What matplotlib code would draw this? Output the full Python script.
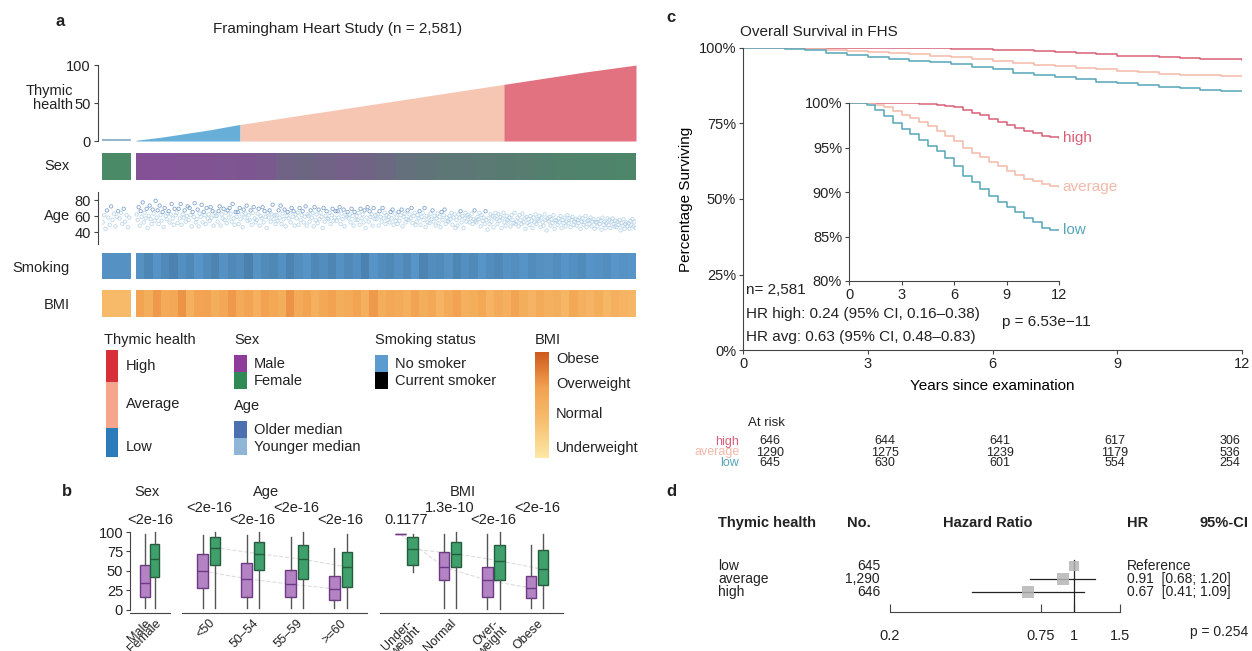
import numpy as np
import matplotlib.pyplot as plt
from matplotlib.colors import to_rgb, LinearSegmentedColormap
from matplotlib.patches import Rectangle

plt.rcParams['font.family'] = ['Liberation Sans', 'DejaVu Sans']
plt.rcParams['font.size'] = 10.5
plt.rcParams['axes.linewidth'] = 0.8
plt.rcParams['xtick.major.width'] = 0.8
plt.rcParams['ytick.major.width'] = 0.8
plt.rcParams['xtick.major.size'] = 3
plt.rcParams['ytick.major.size'] = 3
plt.rcParams['xtick.major.pad'] = 2
plt.rcParams['ytick.major.pad'] = 2
plt.rcParams['text.color'] = '#222222'
plt.rcParams['axes.edgecolor'] = '#444444'
plt.rcParams['xtick.color'] = '#444444'
plt.rcParams['ytick.color'] = '#444444'
plt.rcParams['xtick.labelcolor'] = '#222222'
plt.rcParams['ytick.labelcolor'] = '#222222'

# ---------------- data ----------------
n_total = 2581
group_names = ['low', 'average', 'high']
group_n = [645, 1290, 646]
n_zero = 137          # individuals in the small left block
zero_thymic = 1.0

# thymic health of the sorted main block, at every 5th percentile
thymic_pct = [0, 5, 10, 15, 20, 25, 30, 35, 40, 45, 50, 55, 60, 65, 70, 75, 80, 85, 90, 95, 100]
thymic_vals = [1, 5, 10, 15, 21, 26, 31, 36, 41, 46, 51, 56, 61, 66, 71, 76, 81, 86, 91, 95.5, 100]

# share of males along the main block (25 bins), left block all female
male_frac_zero = 0.0
male_frac = [0.9, 0.88, 0.85, 0.85, 0.82, 0.8, 0.75, 0.6, 0.55, 0.6, 0.65, 0.6, 0.5,
             0.4, 0.35, 0.3, 0.3, 0.25, 0.22, 0.2, 0.15, 0.12, 0.1, 0.08, 0.05]

# ages, first list = left block, then 25 bins of the main block
age_bins = [
    [52, 61, 44, 67, 58, 49, 72, 55, 63, 47, 59, 66, 57, 64, 50, 69, 53, 61, 46, 58],
    [62, 55, 71, 48, 66, 59, 77, 52, 64, 57, 69, 45, 60, 73, 56, 50, 68, 63, 54, 79],
    [58, 67, 50, 73, 61, 54, 65, 46, 70, 60, 56, 63, 66, 52, 62, 75, 57, 49, 69, 61],
    [64, 51, 69, 57, 75, 49, 62, 58, 67, 53, 60, 72, 55, 70, 61, 47, 65, 59, 76, 52],
    [56, 68, 47, 63, 59, 74, 52, 65, 61, 50, 70, 57, 62, 54, 71, 58, 66, 48, 64, 60],
    [60, 53, 66, 72, 48, 62, 57, 69, 55, 64, 51, 67, 58, 70, 63, 53, 75, 57, 49, 65],
    [59, 65, 50, 70, 56, 62, 46, 68, 58, 63, 73, 54, 61, 55, 67, 49, 64, 71, 57, 52],
    [55, 63, 69, 48, 60, 57, 71, 52, 66, 59, 45, 64, 58, 67, 53, 62, 74, 56, 61, 50],
    [61, 54, 67, 58, 73, 50, 63, 56, 68, 47, 60, 65, 57, 64, 52, 70, 59, 66, 48, 62],
    [57, 64, 49, 70, 55, 61, 66, 52, 59, 72, 48, 62, 60, 53, 67, 58, 64, 47, 71, 55],
    [62, 51, 68, 56, 64, 59, 45, 70, 53, 60, 66, 57, 56, 64, 50, 61, 69, 54, 58, 66],
    [54, 66, 58, 71, 50, 63, 56, 68, 47, 61, 59, 65, 57, 62, 52, 69, 60, 48, 65, 55],
    [60, 55, 64, 49, 69, 57, 62, 52, 67, 45, 58, 71, 53, 66, 59, 62, 48, 70, 56, 61],
    [56, 62, 48, 66, 59, 53, 70, 57, 64, 50, 61, 55, 59, 52, 65, 57, 68, 49, 63, 54],
    [58, 50, 65, 54, 61, 68, 47, 59, 63, 52, 56, 67, 55, 62, 57, 70, 51, 60, 64, 49],
    [53, 61, 57, 66, 49, 59, 64, 55, 70, 46, 60, 52, 58, 51, 63, 56, 67, 53, 60, 48],
    [57, 63, 51, 59, 46, 65, 55, 61, 68, 50, 58, 54, 53, 60, 56, 64, 49, 58, 62, 45],
    [55, 48, 62, 58, 66, 52, 60, 45, 57, 64, 53, 61, 59, 52, 57, 63, 50, 56, 67, 54],
    [52, 59, 56, 64, 47, 61, 54, 58, 50, 66, 55, 43, 57, 50, 62, 53, 60, 46, 58, 64],
    [56, 50, 62, 54, 59, 45, 57, 64, 52, 48, 60, 55, 53, 58, 47, 61, 55, 51, 64, 50],
    [53, 58, 47, 61, 55, 50, 63, 52, 57, 44, 59, 51, 56, 49, 60, 54, 45, 58, 52, 62],
    [50, 56, 54, 60, 46, 58, 52, 48, 62, 55, 42, 57, 53, 59, 48, 56, 51, 61, 44, 55],
    [54, 49, 57, 52, 60, 45, 55, 51, 58, 47, 53, 61, 51, 57, 46, 55, 59, 49, 53, 56],
    [48, 55, 51, 58, 44, 53, 57, 49, 52, 60, 46, 54, 55, 50, 58, 47, 53, 56, 44, 52],
    [52, 47, 56, 50, 54, 43, 58, 49, 53, 45, 51, 57, 49, 55, 45, 53, 57, 50, 47, 54],
    [46, 53, 49, 55, 42, 51, 48, 56, 44, 50, 52, 47, 51, 44, 54, 49, 56, 47, 53, 45],
]
age_median = 57

# share of current smokers, left block then 60 bins
smoke_zero = 0.1
smoke_frac = [0.10, 0.22, 0.08, 0.18, 0.26, 0.12, 0.20, 0.06, 0.16, 0.24, 0.10, 0.19,
              0.14, 0.27, 0.09, 0.17, 0.21, 0.11, 0.25, 0.13, 0.07, 0.20, 0.15, 0.23,
              0.10, 0.18, 0.12, 0.26, 0.08, 0.16, 0.21, 0.11, 0.19, 0.06, 0.24, 0.14,
              0.17, 0.09, 0.22, 0.12, 0.18, 0.07, 0.15, 0.20, 0.10, 0.13, 0.08, 0.16,
              0.11, 0.09, 0.14, 0.06, 0.12, 0.17, 0.08, 0.10, 0.13, 0.05, 0.09, 0.07]

# mean BMI class (0 under, 1 normal, 2 over, 3 obese), left block then 60 bins
bmi_zero = 1.2
bmi_score = [1.9, 1.6, 2.1, 1.7, 1.8, 2.2, 1.5, 1.9, 2.0, 1.6, 1.8, 2.1,
             1.7, 1.9, 1.5, 2.0, 1.8, 1.6, 2.2, 1.7, 1.9, 1.5, 1.8, 2.0,
             1.6, 1.7, 1.9, 1.5, 2.1, 1.6, 1.8, 1.7, 1.5, 1.9, 1.6, 1.8,
             1.4, 1.7, 2.0, 1.5, 1.6, 1.8, 1.4, 1.7, 1.5, 1.9, 1.6, 1.4,
             1.7, 1.5, 1.6, 1.3, 1.8, 1.5, 1.4, 1.6, 1.3, 1.5, 1.4, 1.3]

# panel b box statistics: [whisker low, q1, median, q3, whisker high]
sex_labels = ['Male', 'Female']
sex_stats = [[2, 17, 35, 57, 98], [3, 42, 65, 84, 100]]
sex_p = '<2e-16'
age_groups = ['<50', '50–54', '55–59', '>=60']
age_male = [[2, 28, 50, 72, 96], [2, 17, 40, 60, 96], [2, 17, 33, 51, 93], [2, 13, 27, 43, 80]]
age_female = [[3, 57, 80, 93, 100], [3, 51, 72, 87, 100], [3, 40, 65, 83, 100], [3, 30, 55, 74, 97]]
age_p = ['<2e-16', '<2e-16', '<2e-16', '<2e-16']
bmi_groups = ['Under-\nweight', 'Normal', 'Over-\nweight', 'Obese']
bmi_male = [[97, 97, 97, 97, 97], [2, 38, 55, 74, 98], [1, 17, 38, 55, 98], [3, 15, 28, 43, 83]]
bmi_female = [[49, 57, 78, 94, 98], [2, 55, 72, 87, 100], [1, 38, 63, 83, 100], [3, 32, 52, 77, 97]]
bmi_p = ['0.1177', '1.3e-10', '<2e-16', '<2e-16']

# panel c Kaplan-Meier estimates (percent surviving)
km_time = [0, 0.5, 1, 1.5, 2, 2.5, 3, 3.5, 4, 4.5, 5, 5.5, 6, 6.5, 7, 7.5, 8, 8.5,
           9, 9.5, 10, 10.5, 11, 11.5, 12]
km_low = [100, 100, 99.8, 99.2, 98.5, 97.8, 97.1, 96.5, 95.8, 95.2, 94.6, 93.8, 92.9,
          91.8, 91.1, 90.3, 89.6, 88.9, 88.3, 87.7, 87.1, 86.6, 86.0, 85.7, 85.7]
km_avg = [100, 100, 100, 99.8, 99.5, 99.1, 98.7, 98.3, 97.9, 97.4, 96.9, 96.3, 95.7,
          95.0, 94.4, 93.9, 93.4, 92.9, 92.4, 91.9, 91.5, 91.2, 90.9, 90.7, 90.6]
km_high = [100, 100, 100, 100, 100, 100, 100, 100, 99.9, 99.9, 99.8, 99.7, 99.5,
           99.2, 98.9, 98.6, 98.2, 97.9, 97.5, 97.2, 96.9, 96.6, 96.3, 96.2, 96.1]

risk_times = [0, 3, 6, 9, 12]
risk_high = [646, 644, 641, 617, 306]
risk_avg = [1290, 1275, 1239, 1179, 536]
risk_low = [645, 630, 601, 554, 254]

# panel d Cox model
forest_groups = ['low', 'average', 'high']
forest_n = ['645', '1,290', '646']
forest_hr = [1.0, 0.91, 0.67]
forest_lo = [None, 0.68, 0.41]
forest_hi = [None, 1.20, 1.09]
forest_txt = ['Reference', '0.91  [0.68; 1.20]', '0.67  [0.41; 1.09]']
forest_size = [60, 75, 70]

# ---------------- colours ----------------
c_low, c_avg, c_high = '#67afd9', '#f7c6b3', '#e2727f'
c_male, c_female = '#8b4a9c', '#4a8a66'
c_nosmoke, c_smoke = '#5b9bd0', '#000000'
c_old, c_young = '#5b88bd', '#a9cbe3'
km_col = {'high': '#d95f76', 'average': '#f3b9a8', 'low': '#56a6b8'}
bmi_cmap = LinearSegmentedColormap.from_list(
    'bmi', ['#fde8a6', '#f7c070', '#f2a250', '#cf5a1e'])

W, H = 1252, 651
fig = plt.figure(figsize=(W / 100, H / 100), dpi=100)


def box(x0, y0, x1, y1):
    return [x0 / W, 1 - y1 / H, (x1 - x0) / W, (y1 - y0) / H]


def blend(c1, c2, f):
    a, b = np.array(to_rgb(c1)), np.array(to_rgb(c2))
    return (1 - f) * a + f * b


gap = 30
n_main = n_total - n_zero
x_total = n_zero + gap + n_main
x_main0 = n_zero + gap


def strip(ax, zero_rgb, rgbs):
    ax.imshow(np.array([zero_rgb])[None, :, :], extent=(0, n_zero, 0, 1),
              aspect='auto', interpolation='nearest')
    ax.imshow(np.array(rgbs)[None, :, :], extent=(x_main0, x_total, 0, 1),
              aspect='auto', interpolation='nearest')
    ax.set_xlim(0, x_total)
    ax.set_ylim(0, 1)
    ax.axis('off')


# ---------------- panel a ----------------
ax = fig.add_axes(box(102, 62, 636, 142))
px = x_main0 + np.array(thymic_pct) / 100 * n_main
pv = np.array(thymic_vals, dtype=float)
edges = np.cumsum([0] + group_n) - n_zero
edges[0] = 0
for i, col in enumerate([c_low, c_avg, c_high]):
    a, b = x_main0 + edges[i], x_main0 + edges[i + 1]
    inside = (px > a) & (px < b)
    xs = np.concatenate([[a], px[inside], [b]])
    ys = np.concatenate([[np.interp(a, px, pv)], pv[inside], [np.interp(b, px, pv)]])
    ax.fill_between(xs, 0, ys, color=col, lw=0)
ax.plot([0, n_zero], [zero_thymic, zero_thymic], color='#7fa9c4', lw=1.2)
ax.set_xlim(0, x_total)
ax.set_ylim(-1.3, 104)
for s in ['top', 'right', 'bottom']:
    ax.spines[s].set_visible(False)
ax.spines['left'].set_position(('outward', 3))
ax.spines['left'].set_bounds(0, 100)
ax.set_xticks([])
ax.set_yticks([0, 50, 100])

ax = fig.add_axes(box(102, 153, 636, 180))
strip(ax, blend(c_female, c_male, male_frac_zero),
      [blend(c_female, c_male, f) for f in male_frac])

ax = fig.add_axes(box(102, 192, 636, 244))
bw = n_main / (len(age_bins) - 1)
for b, ages in enumerate(age_bins):
    start, width = (0, n_zero) if b == 0 else (x_main0 + (b - 1) * bw, bw)
    k = len(ages)
    xs = start + (np.arange(k) + 0.5) * width / k
    cols = [c_old if a >= age_median + 8 else c_young for a in ages]
    ax.scatter(xs, ages, s=6, facecolors='none', edgecolors=cols, linewidths=0.6, alpha=0.75)
ax.set_xlim(0, x_total)
ax.set_ylim(25, 90)
for s in ['top', 'right', 'bottom']:
    ax.spines[s].set_visible(False)
ax.spines['left'].set_position(('outward', 3))
ax.set_xticks([])
ax.set_yticks([40, 60, 80])

ax = fig.add_axes(box(102, 253, 636, 279))
strip(ax, blend(c_nosmoke, c_smoke, smoke_zero * 0.6),
      [blend(c_nosmoke, c_smoke, f * 0.6) for f in smoke_frac])

ax = fig.add_axes(box(102, 290, 636, 317))
strip(ax, bmi_cmap(bmi_zero / 3)[:3], [bmi_cmap(v / 3)[:3] for v in bmi_score])

# ---------------- panel b ----------------
def boxes(ax, stats, pos, face, edge, w):
    ax.bxp([dict(whislo=s[0], q1=s[1], med=s[2], q3=s[3], whishi=s[4], fliers=[])
            for s in stats], positions=pos, widths=w, patch_artist=True, showcaps=False,
           boxprops=dict(facecolor=face, edgecolor=edge, lw=1.0),
           medianprops=dict(color=edge, lw=1.0),
           whiskerprops=dict(color='#555555', lw=1.0), manage_ticks=False)


def bstyle(ax, left):
    ax.set_ylim(-4, 109)
    for s in ['top', 'right']:
        ax.spines[s].set_visible(False)
    if left:
        ax.spines['left'].set_bounds(0, 100)
        ax.set_yticks([0, 25, 50, 75, 100])
    else:
        ax.spines['left'].set_visible(False)
        ax.set_yticks([])
    ax.tick_params(axis='x', length=0, labelsize=9, pad=3)


male_face, male_edge = '#b383c4', '#6e3a85'
fem_face, fem_edge = '#3fa06c', '#245c3e'

ax = fig.add_axes(box(130, 525, 170, 613))
boxes(ax, [sex_stats[0]], [1.0], male_face, male_edge, 0.95)
boxes(ax, [sex_stats[1]], [1.95], fem_face, fem_edge, 0.95)
ax.set_xlim(-0.5, 3.5)
bstyle(ax, True)
ax.set_xticks([1.0, 1.95])
ax.set_xticklabels(sex_labels, rotation=45, ha='right', rotation_mode='anchor')
ax.text(1.2, 151, 'Sex', ha='center', va='center')
ax.text(1.5, 115, sex_p, ha='center', va='center')

for (x0, x1, lab, gl, ms, fs, pv_, head) in [
        (182, 367, 'Age', age_groups, age_male, age_female, age_p, 1.3),
        (380, 563, 'BMI', bmi_groups, bmi_male, bmi_female, bmi_p, 1.3)]:
    ax = fig.add_axes(box(x0, 525, x1, 613))
    g = np.arange(len(gl))
    ax.plot(g - 0.14, [m[2] for m in ms], color='#dddddd', lw=0.8, ls='--', zorder=0)
    ax.plot(g + 0.14, [f[2] for f in fs], color='#dddddd', lw=0.8, ls='--', zorder=0)
    boxes(ax, ms, g - 0.14, male_face, male_edge, 0.24)
    boxes(ax, fs, g + 0.14, fem_face, fem_edge, 0.24)
    ax.set_xlim(-0.61, 3.6)
    bstyle(ax, False)
    ax.set_xticks(g)
    ax.set_xticklabels(gl, rotation=45, ha='right', rotation_mode='anchor',
                       linespacing=0.85)
    ax.text(head, 151, lab, ha='center', va='center')
    for i, p in enumerate(pv_):
        up = (i % 2 == 0) if lab == 'Age' else (i % 2 == 1)
        ax.text(i, 131 if up else 115, p, ha='center', va='center')

# ---------------- panel c ----------------
ax = fig.add_axes(box(743, 48, 1242, 350))
for name, surv in [('high', km_high), ('average', km_avg), ('low', km_low)]:
    ax.plot(km_time, surv, drawstyle='steps-post', color=km_col[name], lw=1.1)
ax.set_xlim(0, 12)
ax.set_ylim(0, 100)
ax.set_xticks([0, 3, 6, 9, 12])
ax.set_yticks([0, 25, 50, 75, 100])
ax.set_yticklabels(['0%', '25%', '50%', '75%', '100%'])
for s in ['top', 'right']:
    ax.spines[s].set_visible(False)
ax.set_xlabel('Years since examination', fontsize=11, labelpad=6)
ax.set_ylabel('Percentage Surviving', fontsize=11, labelpad=4)

ax = fig.add_axes(box(849, 103, 1059, 281))
for name, surv in [('high', km_high), ('average', km_avg), ('low', km_low)]:
    ax.plot(km_time, surv, drawstyle='steps-post', color=km_col[name], lw=1.1)
    ax.text(12.2, surv[-1], name, color=km_col[name], va='center', ha='left', fontsize=11)
ax.set_xlim(0, 12)
ax.set_ylim(80, 100)
ax.set_xticks([0, 3, 6, 9, 12])
ax.set_yticks([80, 85, 90, 95, 100])
ax.set_yticklabels(['80%', '85%', '90%', '95%', '100%'])
for s in ['top', 'right']:
    ax.spines[s].set_visible(False)

# risk table
ax = fig.add_axes(box(770, 436, 1230, 469))
ax.set_xlim(0, 12)
ax.set_ylim(0, 3)
ax.axis('off')
for row, (name, vals) in enumerate([('high', risk_high), ('average', risk_avg), ('low', risk_low)]):
    yy = 2.5 - row
    for tt, v in zip(risk_times, vals):
        ax.text(tt, yy, str(v), ha='center', va='center', fontsize=9)
    ax.text(-0.8, yy, name, ha='right', va='center', fontsize=9, color=km_col[name])

# ---------------- panel d ----------------
ax = fig.add_axes(box(890, 556, 1120, 612))
ax.set_xscale('log')
ax.set_xlim(0.2, 1.5)
ax.set_ylim(-0.54, 3.77)
rows = [3, 2, 1]
ax.plot([1, 1], [-0.54, 3.5], color='#222222', lw=0.9)
for y, hr, lo, hi, sz in zip(rows, forest_hr, forest_lo, forest_hi, forest_size):
    if lo is not None:
        ax.plot([lo, hi], [y, y], color='#222222', lw=0.9)
    ax.scatter([hr], [y], marker='s', s=sz, color='#b5b5b5', alpha=0.85, lw=0, zorder=3)
for s in ['top', 'right', 'left']:
    ax.spines[s].set_visible(False)
ax.set_yticks([])
ax.set_xticks([0.2, 0.75, 1, 1.5])
ax.set_xticks([], minor=True)
ax.set_xticklabels(['0.2', '0.75', '1', '1.5'])
ax.tick_params(axis='x', direction='in', length=6, pad=12)

# ---------------- free text and legends ----------------
ov = fig.add_axes([0, 0, 1, 1])
ov.set_xlim(0, W)
ov.set_ylim(H, 0)
ov.axis('off')


def t(x, y, s, **kw):
    kw.setdefault('va', 'center')
    ov.text(x, y, s, **kw)


for lab, x, y in [('a', 56, 22), ('b', 62, 492), ('c', 666, 18), ('d', 666, 492)]:
    t(x, y, lab, fontsize=12, fontweight='bold')
t(338, 29, 'Framingham Heart Study (n = 2,581)', ha='center', fontsize=11)
t(73, 98, 'Thymic\nhealth', ha='right', linespacing=1.05)
t(70, 166, 'Sex', ha='right')
t(70, 216, 'Age', ha='right')
t(70, 268, 'Smoking', ha='right')
t(70, 305, 'BMI', ha='right')

# legend: thymic health
t(104, 340, 'Thymic health')
for (y0, y1, col, lab) in [(350, 382, '#d7303a', 'High'), (382, 428, '#f4a58c', 'Average'),
                           (428, 457, '#2b7bba', 'Low')]:
    ov.add_patch(Rectangle((106, y0), 12, y1 - y0, color=col, lw=0))
t(126, 366, 'High')
t(126, 404, 'Average')
t(126, 447, 'Low')
# legend: sex / age
t(234, 340, 'Sex')
ov.add_patch(Rectangle((234, 355), 13, 17, color='#8e3b9a', lw=0))
ov.add_patch(Rectangle((234, 372), 13, 17, color='#2f8a55', lw=0))
t(254, 364, 'Male')
t(254, 381, 'Female')
t(234, 406, 'Age')
ov.add_patch(Rectangle((234, 421), 13, 17, color='#4a70b0', lw=0))
ov.add_patch(Rectangle((234, 438), 13, 17, color='#8fb6d6', lw=0))
t(254, 430, 'Older median')
t(254, 447, 'Younger median')
# legend: smoking
t(375, 340, 'Smoking status')
ov.add_patch(Rectangle((375, 355), 13, 17, color='#5b9bd0', lw=0))
ov.add_patch(Rectangle((375, 372), 13, 17, color='#000000', lw=0))
t(395, 364, 'No smoker')
t(395, 381, 'Current smoker')
# legend: BMI gradient
t(535, 340, 'BMI')
grad = np.linspace(1, 0, 100)[:, None]
ov.imshow(grad, extent=(535, 549, 458, 352), cmap=bmi_cmap, aspect='auto',
          origin='upper', vmin=0, vmax=1)
ov.set_xlim(0, W)
ov.set_ylim(H, 0)
t(556, 359, 'Obese')
t(556, 384, 'Overweight')
t(556, 414, 'Normal')
t(556, 448, 'Underweight')

# panel c texts
t(740, 32, 'Overall Survival in FHS', fontsize=11)
t(746, 290, 'n= 2,581', fontsize=11)
t(746, 314, 'HR high: 0.24 (95% CI, 0.16–0.38)', fontsize=11)
t(746, 337, 'HR avg: 0.63 (95% CI, 0.48–0.83)', fontsize=11)
t(1002, 322, 'p = 6.53e−11', fontsize=11)
t(748, 423, 'At risk', fontsize=9.5)

# panel d texts
t(718, 523, 'Thymic health', fontweight='bold')
t(847, 523, 'No.', fontweight='bold')
t(988, 523, 'Hazard Ratio', fontweight='bold', ha='center')
t(1127, 523, 'HR', fontweight='bold')
t(1248, 523, '95%-CI', fontweight='bold', ha='right')
for y, g, n, txt in zip([566, 579, 592], forest_groups, forest_n, forest_txt):
    t(718, y, g, fontsize=10)
    t(880, y, n, ha='right', fontsize=10)
    t(1127, y, txt, fontsize=10)
t(1248, 632, 'p = 0.254', ha='right', fontsize=10)

fig.savefig('out.png', dpi=100)
